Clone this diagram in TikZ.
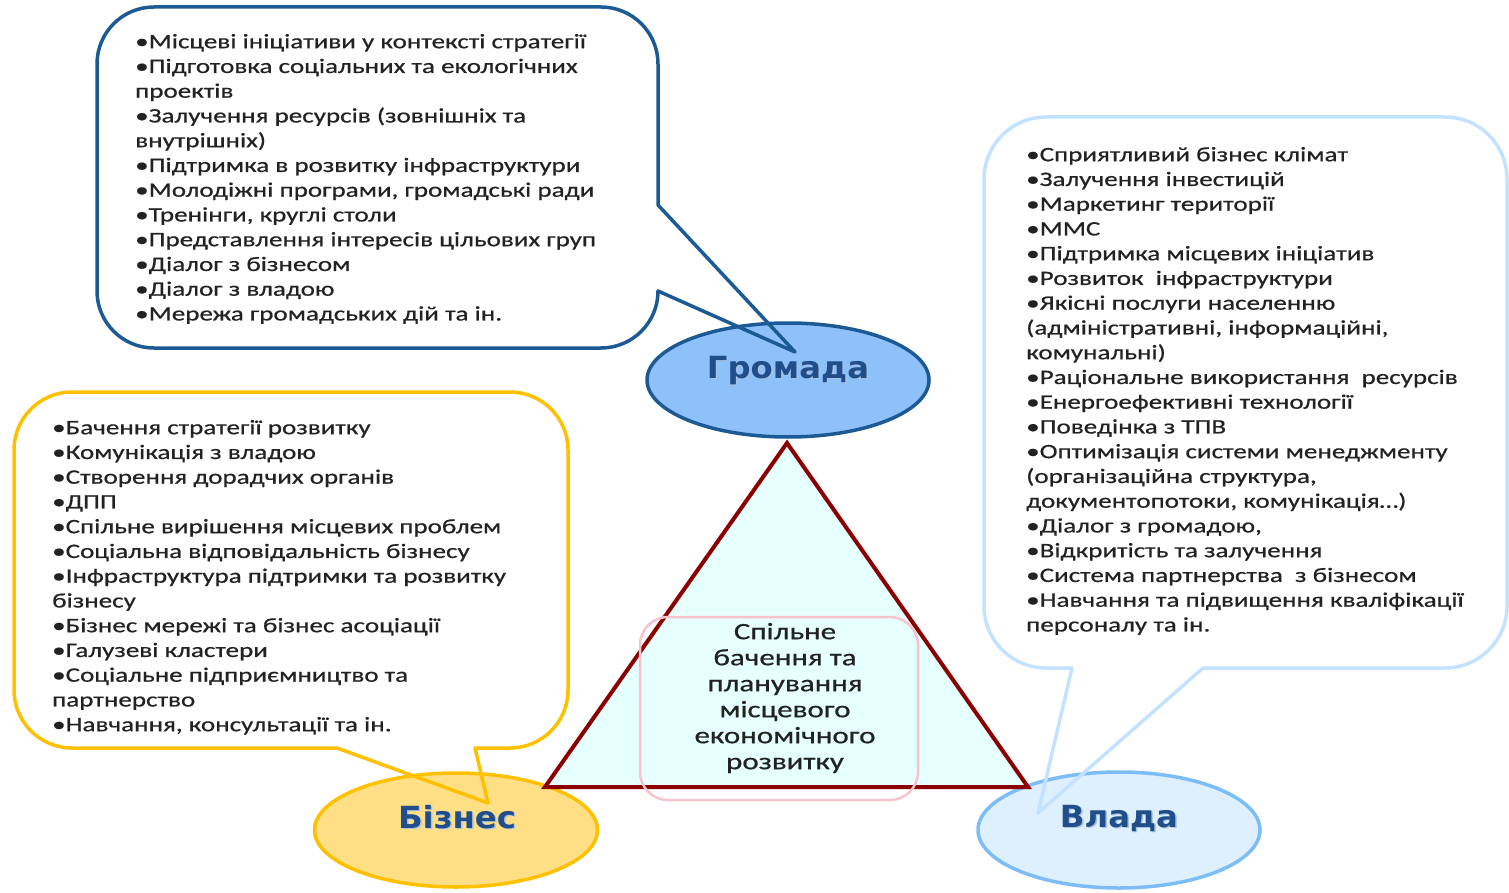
\documentclass[tikz,border=0pt]{standalone}
\usepackage{fontspec}
\setmainfont{Carlito}[FakeStretch=1.32,FakeBold=0.6]
\newfontfamily\labelfont{DejaVu Sans}[FakeStretch=1.06]
\usetikzlibrary{shapes.geometric}
\definecolor{gblue}{HTML}{1C5A96}
\definecolor{gfill}{HTML}{8EC0F9}
\definecolor{byellow}{HTML}{FFC000}
\definecolor{bfill}{HTML}{FFDF86}
\definecolor{vline}{HTML}{C3E2FF}
\definecolor{vedge}{HTML}{7DBDF7}
\definecolor{vfill}{HTML}{DEEFFD}
\definecolor{trired}{HTML}{8B0000}
\definecolor{trifill}{HTML}{E6FFFF}
\definecolor{pinkline}{HTML}{F7C3CD}
\definecolor{bodygray}{HTML}{222222}
\definecolor{lblblue}{HTML}{1F4E8A}
\definecolor{lblshadow}{HTML}{A9C2E2}
\newcommand{\fl}{\rule{0pt}{20pt}}
\begin{document}
\begin{tikzpicture}[x=1pt,y=1pt,
  callout/.style={line width=3.5pt, line join=round},
  oval/.style={ellipse, line width=3.5pt, inner sep=0pt, minimum width=282pt, minimum height=114pt},
  bodytext/.style={font=\fontsize{20.5}{24.75}\selectfont, align=left, inner sep=0pt, text=bodygray, anchor=north west},
  centertext/.style={font=\fontsize{23.5}{26}\selectfont, align=center, inner sep=0pt, text=bodygray, anchor=north},
  lbl/.style={font=\labelfont\bfseries\fontsize{30.5}{30}\selectfont, inner sep=0pt, anchor=base, text=lblblue},
  lblsh/.style={font=\labelfont\bfseries\fontsize{30.5}{30}\selectfont, inner sep=0pt, anchor=base, text=lblshadow}]
\useasboundingbox (0,0) rectangle (1509,-893);

% ovals
\node[oval, draw=gblue, fill=gfill] (gromada) at (788,-380) {};
\node[oval, draw=byellow, fill=bfill, minimum width=283pt] (biznes) at (456,-830) {};
\node[oval, draw=vedge, fill=vfill, minimum height=116pt] (vlada) at (1119,-830) {};

% triangle
\coordinate (tA) at (787,-443);
\coordinate (tB) at (1028,-787);
\coordinate (tC) at (545,-787);
\draw[line width=4pt, draw=trired, fill=trifill, line join=miter] (tA) -- (tB) -- (tC) -- cycle;

% pink rounded box
\draw[line width=2.5pt, draw=pinkline, rounded corners=28pt] (640,-617) rectangle (918,-800);
\node[centertext] (goal) at (785,-619) {\fl Спільне\\бачення та\\планування\\місцевого\\економічного\\розвитку};

% callout: Громада
\draw[callout, draw=gblue] (154,-7) -- (601,-7) arc[start angle=90, end angle=0, radius=57]
  -- (658,-205) -- (795,-352) -- (658,-291) arc[start angle=0, end angle=-90, radius=57]
  -- (154,-348) arc[start angle=-90, end angle=-180, radius=57]
  -- (97,-64) arc[start angle=180, end angle=90, radius=57] -- cycle;

% callout: Бізнес
\draw[callout, draw=byellow] (72,-392) -- (510,-392) arc[start angle=90, end angle=0, radius=58]
  -- (568,-690) arc[start angle=0, end angle=-90, radius=58]
  -- (475,-748) -- (488,-803) -- (337,-748)
  -- (72,-748) arc[start angle=-90, end angle=-180, radius=58]
  -- (14,-450) arc[start angle=180, end angle=90, radius=58] -- cycle;

% callout: Влада
\draw[callout, draw=vline] (1046,-117) -- (1445,-117) arc[start angle=90, end angle=0, radius=62]
  -- (1507,-606) arc[start angle=0, end angle=-90, radius=62]
  -- (1203,-668) -- (1038,-813) -- (1072,-668)
  -- (1046,-668) arc[start angle=-90, end angle=-180, radius=62]
  -- (984,-179) arc[start angle=180, end angle=90, radius=62] -- cycle;

% texts
\node[bodytext] (gtext) at (135,-28) {\fl •Місцеві ініціативи у контексті стратегії\\
•Підготовка соціальних та екологічних\\
проектів\\
•Залучення ресурсів (зовнішніх та\\
внутрішніх)\\
•Підтримка в розвитку інфраструктури\\
•Молодіжні програми, громадські ради\\
•Тренінги, круглі столи\\
•Представлення інтересів цільових груп\\
•Діалог з бізнесом\\
•Діалог з владою\\
•Мережа громадських дій та ін.};

\node[bodytext] (btext) at (52,-414) {\fl •Бачення стратегії розвитку\\
•Комунікація з владою\\
•Створення дорадчих органів\\
•ДПП\\
•Спільне вирішення місцевих проблем\\
•Соціальна відповідальність бізнесу\\
•Інфраструктура підтримки та розвитку\\
бізнесу\\
•Бізнес мережі та бізнес асоціації\\
•Галузеві кластери\\
•Соціальне підприємництво та\\
партнерство\\
•Навчання, консультації та ін.};

\node[bodytext] (vtext) at (1026,-141) {\fl •Сприятливий бізнес клімат\\
•Залучення інвестицій\\
•Маркетинг території\\
•ММС\\
•Підтримка місцевих ініціатив\\
•Розвиток\ \ інфраструктури\\
•Якісні послуги населенню\\
(адміністративні, інформаційні,\\
комунальні)\\
•Раціональне використання\ \ ресурсів\\
•Енергоефективні технології\\
•Поведінка з ТПВ\\
•Оптимізація системи менеджменту\\
(організаційна структура,\\
документопотоки, комунікація…)\\
•Діалог з громадою,\\
•Відкритість та залучення\\
•Система партнерства\ \ з бізнесом\\
•Навчання та підвищення кваліфікації\\
персоналу та ін.};

% labels
\node[lblsh] at (789.5,-379.5) {Громада};
\node[lbl] (glabel) at (788,-378) {Громада};
\node[lblsh] at (458.5,-829.5) {Бізнес};
\node[lbl] (blabel) at (457,-828) {Бізнес};
\node[lblsh] at (1120.5,-828.5) {Влада};
\node[lbl] (vlabel) at (1119,-827) {Влада};
\end{tikzpicture}
\end{document}
